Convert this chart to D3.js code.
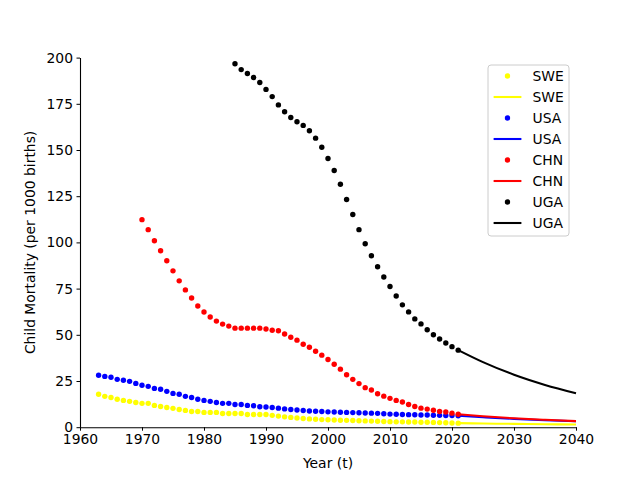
<!DOCTYPE html>
<html>
<head>
<meta charset="utf-8">
<script src="https://cdn.jsdelivr.net/npm/d3@7"></script>
<style>
  body { margin: 0; background: #fff; }
  text { font-family: "DejaVu Sans", sans-serif; }
</style>
</head>
<body>
<div id="chart"></div>
<script>
// Observed data: first year + yearly values
const sweStart = 1963;
const sweValues = [
    17.8, 16.7, 16.1, 15.1, 14.5, 14.0, 13.4,
    12.9, 12.9, 11.8, 11.2, 10.7, 10.2, 9.6, 9.1, 8.5, 8.5,
    8.0, 8.0, 8.0, 7.4, 7.4, 7.4, 7.4, 6.9, 6.9, 6.9,
    6.9, 6.4, 6.0, 5.6, 5.3, 5.0, 4.7, 4.5, 4.3, 4.1,
    4.0, 3.9, 3.8, 3.7, 3.6, 3.5, 3.4, 3.3, 3.2, 3.1,
    3.0, 2.9, 2.9, 2.8, 2.8, 2.7, 2.7, 2.6, 2.5, 2.4,
    2.3, 2.2,
];
const usaStart = 1963;
const usaValues = [
    28.1, 27.5, 27.0, 25.9, 25.4, 24.8, 23.7,
    22.7, 22.1, 21.0, 20.5, 19.4, 18.3, 17.8, 16.7, 16.1, 15.1,
    14.5, 14.0, 13.4, 12.9, 12.9, 12.3, 12.3, 11.8, 11.6, 11.1,
    10.9, 10.7, 10.3, 9.9, 9.6, 9.3, 9.0, 8.8, 8.6, 8.5,
    8.3, 8.2, 8.1, 8.0, 7.9, 7.8, 7.7, 7.6, 7.5, 7.3,
    7.1, 7.0, 6.9, 6.8, 6.7, 6.6, 6.6, 6.5, 6.4, 6.3,
    6.3, 6.2,
];
const chnStart = 1970;
const chnValues = [
    112.3, 106.9, 100.9, 95.5, 90.1, 84.6, 79.2, 74.3, 69.9, 65.6,
    62.3, 59.6, 57.4, 55.8, 54.7, 53.6, 53.6, 53.6, 53.6, 53.6,
    53.1, 52.5, 52.2, 50.4, 48.7, 47.1, 44.9, 43.3, 41.1, 39.0,
    36.6, 34.1, 31.4, 28.4, 25.9, 23.6, 21.4, 20.1, 18.1, 16.8,
    15.6, 14.5, 13.6, 12.3, 11.2, 10.3, 9.8, 9.2, 8.5, 8.2,
    7.6, 7.0,
];
const ugaStart = 1985;
const ugaValues = [
    196.7, 193.5, 191.4, 189.2, 186.5,
    182.8, 178.9, 174.4, 170.7, 167.6, 165.3, 163.3, 160.4, 156.4, 151.5,
    145.4, 138.9, 131.5, 123.2, 115.1, 106.9, 99.3, 92.8, 86.8, 81.3,
    76.1, 71.0, 66.2, 62.4, 58.6, 55.9, 52.7, 50.0, 47.7, 45.6,
    43.6, 41.7,
];

// Projection lines
const forecastYears = [2021, 2025, 2030, 2035, 2040];
const sweForecast = [2.2, 2.0, 1.8, 1.6, 1.5];
const usaForecast = [6.2, 5.4, 4.5, 3.8, 3.2];
const chnForecast = [7.0, 5.9, 4.8, 4.0, 3.3];
const ugaForecast = [41.7, 35.2, 28.4, 22.9, 18.4];

const countries = ["SWE", "USA", "CHN", "UGA"];
const colors = ["#ffff00", "#0000ff", "#ff0000", "#000000"];

const xTicks = [1960, 1970, 1980, 1990, 2000, 2010, 2020, 2030, 2040];
const yTicks = [0, 25, 50, 75, 100, 125, 150, 175, 200];

const series = [
    { start: sweStart, values: sweValues, forecast: sweForecast },
    { start: usaStart, values: usaValues, forecast: usaForecast },
    { start: chnStart, values: chnValues, forecast: chnForecast },
    { start: ugaStart, values: ugaValues, forecast: ugaForecast },
];

// Set dimensions
const width = 640,
    height = 480;
const margin = { left: 80, right: 64, top: 57.6, bottom: 52.8 };

const svg = d3
    .select("#chart")
    .append("svg")
    .attr("width", width)
    .attr("height", height);

const x = d3
    .scaleLinear()
    .domain([1960, 2040])
    .range([margin.left, width - margin.right]);
const y = d3
    .scaleLinear()
    .domain([0, 200])
    .range([height - margin.bottom, margin.top]);

// Axes
const xAxis = svg
    .append("g")
    .attr("transform", `translate(0,${height - margin.bottom})`)
    .call(
        d3.axisBottom(x).tickValues(xTicks).tickFormat(d3.format("d"))
            .tickSize(3.5).tickPadding(3.5).tickSizeOuter(0),
    );
const yAxis = svg
    .append("g")
    .attr("transform", `translate(${margin.left},0)`)
    .call(
        d3.axisLeft(y).tickValues(yTicks)
            .tickSize(3.5).tickPadding(3.5).tickSizeOuter(0),
    );
[xAxis, yAxis].forEach((g) => {
    g.selectAll("text").style("font-size", "13.9px").attr("fill", "#000");
    g.selectAll("line").attr("stroke", "#000").attr("stroke-width", 1);
    g.select(".domain").attr("stroke", "#000").attr("stroke-width", 1.1);
});

// Axis labels
svg.append("text")
    .attr("x", (margin.left + width - margin.right) / 2)
    .attr("y", 468)
    .attr("text-anchor", "middle")
    .style("font-size", "13.9px")
    .text("Year (t)");
svg.append("text")
    .attr("transform", `translate(35,${(margin.top + height - margin.bottom) / 2}) rotate(-90)`)
    .attr("text-anchor", "middle")
    .style("font-size", "13.9px")
    .text("Child Mortality (per 1000 births)");

const line = d3
    .line()
    .x((d) => x(d[0]))
    .y((d) => y(d[1]))
    .curve(d3.curveMonotoneX);

// Draw dots and projection lines
series.forEach((s, i) => {
    svg.append("g")
        .selectAll("circle")
        .data(s.values)
        .enter()
        .append("circle")
        .attr("cx", (d, j) => x(s.start + j))
        .attr("cy", (d) => y(d))
        .attr("r", 2.7)
        .attr("fill", colors[i]);

    svg.append("path")
        .datum(forecastYears.map((yr, j) => [yr, s.forecast[j]]))
        .attr("d", line)
        .attr("fill", "none")
        .attr("stroke", colors[i])
        .attr("stroke-width", 2.08);
});

// Legend
const legend = svg.append("g").attr("transform", "translate(488,65)");
legend.append("rect")
    .attr("width", 81)
    .attr("height", 171)
    .attr("rx", 3)
    .attr("fill", "#fff")
    .attr("fill-opacity", 0.8)
    .attr("stroke", "#cccccc");

countries.forEach((c, i) => {
    const rowDot = 11 + i * 42;
    const rowLine = rowDot + 21;
    legend.append("circle")
        .attr("cx", 19.5)
        .attr("cy", rowDot)
        .attr("r", 2.7)
        .attr("fill", colors[i]);
    legend.append("line")
        .attr("x1", 5.6)
        .attr("x2", 33.4)
        .attr("y1", rowLine)
        .attr("y2", rowLine)
        .attr("stroke", colors[i])
        .attr("stroke-width", 2.08);
    [rowDot, rowLine].forEach((ry) => {
        legend.append("text")
            .attr("x", 44.5)
            .attr("y", ry)
            .attr("dy", "0.36em")
            .style("font-size", "13.9px")
            .text(c);
    });
});
</script>
</body>
</html>
